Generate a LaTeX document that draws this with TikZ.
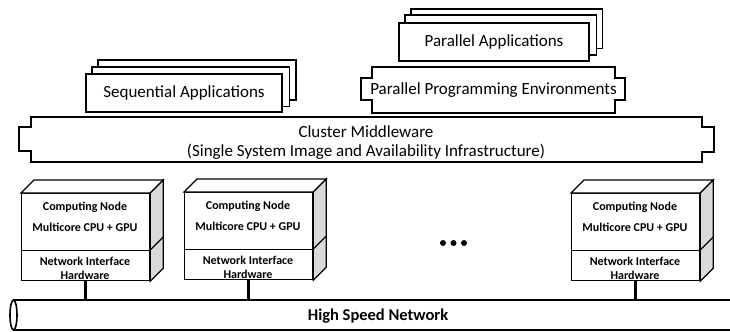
\documentclass[tikz,border=0pt]{standalone}
\usepackage{fontspec}
\setmainfont{Carlito}
\usetikzlibrary{calc}
\begin{document}
\begin{tikzpicture}[x=1bp,y=-1bp,
  layer/.style={draw, line width=1.6bp, fill=white},
  appbox/.style={layer, minimum width=#1, minimum height=38bp, inner sep=0pt,
    font=\fontsize{17bp}{20bp}\selectfont},
  bigtext/.style={inner sep=0pt, font=\fontsize{17bp}{20bp}\selectfont, align=center},
  cube/.style={draw, line width=1.2bp, fill=white},
  cpubox/.style={cube, minimum width=128bp, minimum height=57bp, inner sep=0pt, anchor=north west},
  nihbox/.style={cube, minimum width=128bp, minimum height=30bp, inner sep=0pt, anchor=north west},
  cntext/.style={inner sep=0pt, font=\bfseries\fontsize{12bp}{14bp}\selectfont, align=center},
  stem/.style={draw, line width=3.2bp},
  tube/.style={draw, line width=1.6bp}
]
\useasboundingbox (0,0) rectangle (730,331);

% ---------- Sequential applications (stacked) ----------
\node[appbox=196bp] (seqf) at (184,93) {};
\draw[layer] ($(seqf.north west)+(13,-13)$) rectangle ($(seqf.south east)+(13,-13)$);
\draw[layer] ($(seqf.north west)+(6.5,-6.5)$) rectangle ($(seqf.south east)+(6.5,-6.5)$);
\node[appbox=196bp] (seq) at (184,93) {Sequential Applications};

% ---------- Parallel applications (stacked) ----------
\node[appbox=190bp] (parf) at (494,42) {};
\draw[layer] ($(parf.north west)+(12.5,-13.5)$) rectangle ($(parf.south east)+(12.5,-13.5)$);
\draw[layer] ($(parf.north west)+(6.5,-7)$) rectangle ($(parf.south east)+(6.5,-7)$);
\node[appbox=190bp] (par) at (494,42) {Parallel Applications};

% ---------- Parallel programming environments ----------
\node[minimum width=243bp, minimum height=46bp, inner sep=0pt] (ppe) at (493.5,90) {};
\draw[layer] (ppe.north west) -- (ppe.north east) -- ($(ppe.north east)+(0,11)$) -- ++(10,0) -- ++(0,22)
  -- ++(-10,0) -- (ppe.south east) -- (ppe.south west) -- ($(ppe.north west)+(0,33)$) -- ++(-11,0)
  -- ++(0,-22) -- ++(11,0) -- cycle;
\node[bigtext] (ppetext) at (ppe.center) {Parallel Programming Environments};

% ---------- Cluster middleware ----------
\node[minimum width=671bp, minimum height=45bp, inner sep=0pt] (cm) at (366.5,139.5) {};
\draw[layer] (cm.north west) -- (cm.north east) -- ($(cm.north east)+(0,10)$) -- ++(12,0) -- ++(0,25)
  -- ++(-12,0) -- (cm.south east) -- (cm.south west) -- ($(cm.north west)+(0,34)$) -- ++(-12,0)
  -- ++(0,-24) -- ++(12,0) -- cycle;
\node[bigtext] (cm1) at (366,131.5) {Cluster Middleware};
\node[bigtext] (cm2) at (366,151.5) {(Single System Image and Availability Infrastructure)};

% ---------- High speed network ----------
\coordinate (tubetop) at (13.5,300);
\draw[tube] (730,300) -- (13.5,300);
\draw[tube] (730,330) -- (13.5,330);
\draw[tube, fill=white] (13.5,315) ellipse [x radius=3.5, y radius=15];
\node[inner sep=0pt, font=\bfseries\fontsize{16.5bp}{20bp}\selectfont] (net) at (378,316) {High Speed Network};

% ---------- Computing nodes ----------
\foreach \i/\xl/\yt in {1/21/193, 2/184/192, 3/571/193} {
  \node[cpubox] (cpu\i) at (\xl,\yt) {};
  \node[nihbox] (nih\i) at (\xl,{\yt+57}) {};
  \draw[cube] (cpu\i.north west) -- ++(13,-13) -- ($(cpu\i.north east)+(13,-13)$) -- (cpu\i.north east) -- cycle;
  \draw[cube, fill=gray!30] (cpu\i.north east) -- ++(13,-13) -- ($(nih\i.south east)+(13,-13)$) -- (nih\i.south east) -- cycle;
  \draw[cube] (nih\i.north east) -- ++(13,-13);
  \node[cntext] (cn\i) at ({\xl+64},{\yt+14}) {Computing Node};
  \node[cntext] (mc\i) at ({\xl+64},{\yt+34}) {Multicore CPU + GPU};
  \node[cntext] (ni\i) at ({\xl+64},{\yt+75}) {Network Interface\\Hardware};
  \draw[stem] (nih\i.south) -- (nih\i.south |- tubetop);
}

% ---------- ellipsis ----------
\foreach \k/\xx in {1/443, 2/453.5, 3/464} {
  \fill (\xx,243) circle [radius=3];
}
\end{tikzpicture}
\end{document}
